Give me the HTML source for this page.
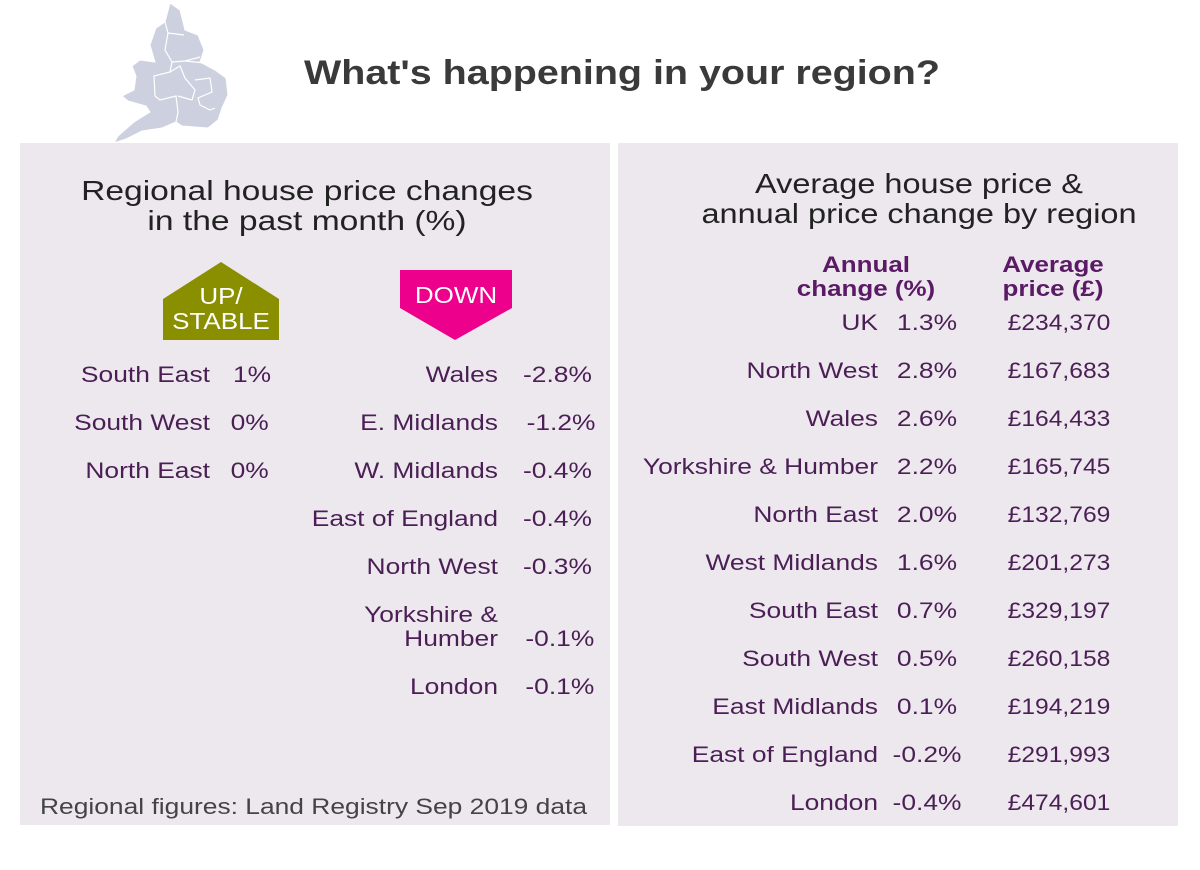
<!DOCTYPE html>
<html><head><meta charset="utf-8"><style>
html,body{margin:0;padding:0;background:#fff;}
svg{display:block;font-family:"Liberation Sans",sans-serif;}
</style></head><body>
<svg width="1200" height="870" viewBox="0 0 1200 870" xmlns="http://www.w3.org/2000/svg">
<rect width="1200" height="870" fill="#fff"/>
<polygon fill="#cdd0df" stroke="#fff" stroke-width="1" points="170,3 180,10 185,30 198,35 204,50 200,62 215,70 226,78 228,95 222,108 218,120 208,128 182,126 176,122 162,128 142,131 126,139 114,143 118,136 134,122 150,112 146,106 128,101 122,96 134,90 136,76 132,66 140,60 155,62 150,45 156,28 165,22"/>
<polyline fill="none" stroke="#fff" stroke-width="1.2" points="165,22 168,33 184,35"/>
<polyline fill="none" stroke="#fff" stroke-width="1.2" points="168,33 165,50 172,62 170,72 154,76 155,96 160,100 176,96 178,112 176,122"/>
<polyline fill="none" stroke="#fff" stroke-width="1.2" points="172,62 185,61 200,57"/>
<polyline fill="none" stroke="#fff" stroke-width="1.2" points="170,72 180,66 185,78 195,90 192,100 178,96"/>
<polyline fill="none" stroke="#fff" stroke-width="1.2" points="185,61 205,63"/>
<polyline fill="none" stroke="#fff" stroke-width="1.2" points="195,80 210,78 212,92 198,98 200,105 210,110 215,108"/>
<rect x="20" y="143" width="590" height="682" fill="#ede8ee"/>
<rect x="618" y="143" width="560" height="683" fill="#ede8ee"/>
<g transform="translate(622,0) scale(1.16,1)"><text x="0" y="84" font-size="34" font-weight="bold" fill="#3a3a3a" text-anchor="middle">What's happening in your region?</text></g>
<g fill="#222" font-size="28" text-anchor="middle">
<g transform="translate(307,0) scale(1.2,1)">
<text x="0" y="200">Regional house price changes</text>
<text x="0" y="230">in the past month (%)</text>
</g>
<g transform="translate(919,0) scale(1.16,1)">
<text x="0" y="193">Average house price &amp;</text>
<text x="0" y="223">annual price change by region</text>
</g>
</g>
<polygon fill="#8a8f00" points="163,299 221,262 279,299 279,340 163,340"/>
<polygon fill="#ec008c" points="400,270 512,270 512,308 455,340 400,308"/>
<g fill="#fff" font-size="23" text-anchor="middle">
<g transform="translate(221,0) scale(1.13,1)">
<text x="0" y="304">UP/</text>
<text x="0" y="329">STABLE</text>
</g>
<g transform="translate(456,0) scale(1.13,1)"><text x="0" y="303">DOWN</text></g>
</g>
<g fill="#4b1f55" font-size="22">
<g text-anchor="end" transform="translate(210,0) scale(1.2,1)">
<text x="0" y="382">South East</text>
<text x="0" y="430">South West</text>
<text x="0" y="478">North East</text>
</g>
<g text-anchor="end" transform="translate(498,0) scale(1.2,1)">
<text x="0" y="382">Wales</text>
<text x="0" y="430">E. Midlands</text>
<text x="0" y="478">W. Midlands</text>
<text x="0" y="526">East of England</text>
<text x="0" y="574">North West</text>
<text x="0" y="622">Yorkshire &amp;</text>
<text x="0" y="646">Humber</text>
<text x="0" y="694">London</text>
</g>
<g transform="translate(233,0) scale(1.2,1)">
<text x="0" y="382">1%</text>
<text x="-2" y="430">0%</text>
<text x="-2" y="478">0%</text>
</g>
<g transform="translate(523,0) scale(1.2,1)">
<text x="0" y="382">-2.8%</text>
<text x="3" y="430">-1.2%</text>
<text x="0" y="478">-0.4%</text>
<text x="0" y="526">-0.4%</text>
<text x="0" y="574">-0.3%</text>
<text x="2" y="646">-0.1%</text>
<text x="2" y="694">-0.1%</text>
</g>
</g>
<g transform="translate(40,0) scale(1.2,1)"><text x="0" y="814" font-size="22" fill="#444">Regional figures: Land Registry Sep 2019 data</text></g>
<g fill="#5b1a66" font-size="22" font-weight="bold" text-anchor="middle">
<g transform="translate(866,0) scale(1.18,1)">
<text x="0" y="272">Annual</text>
<text x="0" y="296">change (%)</text>
</g>
<g transform="translate(1053,0) scale(1.18,1)">
<text x="0" y="272">Average</text>
<text x="0" y="296">price (£)</text>
</g>
</g>
<g fill="#4b1f55" font-size="22">
<g text-anchor="end" transform="translate(878,0) scale(1.2,1)">
<text x="0" y="330">UK</text>
<text x="0" y="378">North West</text>
<text x="0" y="426">Wales</text>
<text x="0" y="474">Yorkshire &amp; Humber</text>
<text x="0" y="522">North East</text>
<text x="0" y="570">West Midlands</text>
<text x="0" y="618">South East</text>
<text x="0" y="666">South West</text>
<text x="0" y="714">East Midlands</text>
<text x="0" y="762">East of England</text>
<text x="0" y="810">London</text>
</g>
<g text-anchor="middle" transform="translate(927,0) scale(1.2,1)">
<text x="0" y="330">1.3%</text>
<text x="0" y="378">2.8%</text>
<text x="0" y="426">2.6%</text>
<text x="0" y="474">2.2%</text>
<text x="0" y="522">2.0%</text>
<text x="0" y="570">1.6%</text>
<text x="0" y="618">0.7%</text>
<text x="0" y="666">0.5%</text>
<text x="0" y="714">0.1%</text>
<text x="0" y="762">-0.2%</text>
<text x="0" y="810">-0.4%</text>
</g>
<g text-anchor="middle" transform="translate(1059,0) scale(1.12,1)">
<text x="0" y="330">£234,370</text>
<text x="0" y="378">£167,683</text>
<text x="0" y="426">£164,433</text>
<text x="0" y="474">£165,745</text>
<text x="0" y="522">£132,769</text>
<text x="0" y="570">£201,273</text>
<text x="0" y="618">£329,197</text>
<text x="0" y="666">£260,158</text>
<text x="0" y="714">£194,219</text>
<text x="0" y="762">£291,993</text>
<text x="0" y="810">£474,601</text>
</g>
</g>
</svg>
</body></html>
